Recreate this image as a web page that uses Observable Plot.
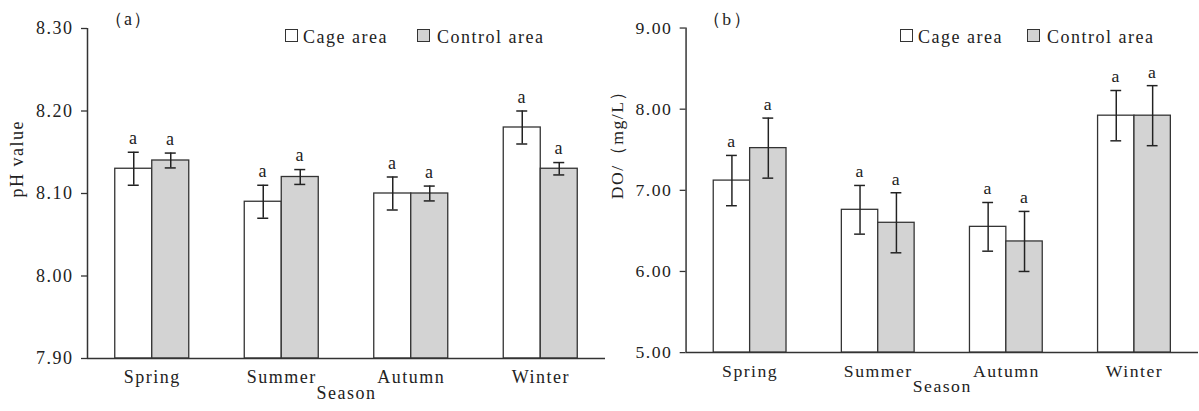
<!DOCTYPE html>
<html><head><meta charset="utf-8">
<script src="https://cdn.jsdelivr.net/npm/d3@7"></script>
<script src="https://cdn.jsdelivr.net/npm/@observablehq/plot@0.6"></script>
<style>
body{margin:0;background:#fff;}
#wrap{position:relative;width:1199px;height:411px;overflow:hidden;background:#fff;}
.panel{position:absolute;top:0;}
.lg{position:absolute;top:28px;font-family:"Liberation Serif",serif;font-size:18px;line-height:18px;letter-spacing:1.5px;color:#222;white-space:nowrap;}
.sw{position:absolute;top:29px;width:11px;height:11px;border:1.5px solid #333;box-sizing:content-box;}
</style></head>
<body><div id="wrap"></div>
<script>
// ---- data ----
const seasons = ["Spring", "Summer", "Autumn", "Winter"];
const areas = ["Cage area", "Control area"];

const phCage = [8.13, 8.09, 8.10, 8.18];
const phCageSd = [0.02, 0.02, 0.02, 0.02];
const phControl = [8.14, 8.12, 8.10, 8.13];
const phControlSd = [0.009, 0.009, 0.009, 0.0075];
const phSigCage = ["a", "a", "a", "a"];
const phSigControl = ["a", "a", "a", "a"];
const phTicks = [7.90, 8.00, 8.10, 8.20, 8.30];

const doCage = [7.12, 6.76, 6.55, 7.92];
const doCageSd = [0.31, 0.30, 0.30, 0.31];
const doControl = [7.52, 6.60, 6.37, 7.92];
const doControlSd = [0.37, 0.37, 0.37, 0.37];
const doSigCage = ["a", "a", "a", "a"];
const doSigControl = ["a", "a", "a", "a"];
const doTicks = [5.00, 6.00, 7.00, 8.00, 9.00];

const FONT = '"Liberation Serif", "Times New Roman", serif';
const INK = "#333";

function makePanel(o) {
  const rows = [];
  seasons.forEach((s, i) => {
    rows.push({season: s, i, side: -1, value: o.cage[i], sd: o.cageSd[i], sig: o.sigCage[i]});
    rows.push({season: s, i, side: 1, value: o.control[i], sd: o.controlSd[i], sig: o.sigControl[i]});
  });
  const cageRows = rows.filter(d => d.side < 0);
  const ctrlRows = rows.filter(d => d.side > 0);
  const marginLeft = 87, marginRight = 1;
  const step = (o.width - marginLeft - marginRight) / seasons.length;
  const bw = 37 / step;
  const cap = 5.5 / step;
  const center = d => d.i + d.side * bw / 2;
  const y0 = o.ticks[0];
  return Plot.plot({
    width: o.width, height: 411,
    marginLeft, marginRight, marginTop: 28, marginBottom: 53,
    style: {fontFamily: FONT, fontSize: "18px", letterSpacing: "1.5px", color: "#222", background: "transparent", overflow: "visible"},
    x: {domain: [-0.5, seasons.length - 0.5]},
    y: {domain: [o.ticks[0], o.ticks[o.ticks.length - 1]]},
    marks: [
      Plot.rect(cageRows, {x1: d => d.i - bw, x2: d => d.i, y1: y0, y2: "value", fill: "#ffffff", stroke: INK, strokeWidth: 1.3}),
      Plot.rect(ctrlRows, {x1: d => d.i, x2: d => d.i + bw, y1: y0, y2: "value", fill: "#d3d3d3", stroke: INK, strokeWidth: 1.3}),
      Plot.ruleX(rows, {x: center, y1: d => d.value - d.sd, y2: d => d.value + d.sd, stroke: "#222", strokeWidth: 1.5}),
      Plot.ruleY(rows, {y: d => d.value + d.sd, x1: d => center(d) - cap, x2: d => center(d) + cap, stroke: "#222", strokeWidth: 1.5}),
      Plot.ruleY(rows, {y: d => d.value - d.sd, x1: d => center(d) - cap, x2: d => center(d) + cap, stroke: "#222", strokeWidth: 1.5}),
      Plot.text(rows, {x: center, y: d => d.value + d.sd, text: "sig", dy: -14, fill: "#222"}),
      Plot.ruleX([-0.5], {stroke: INK, strokeWidth: 1.5}),
      Plot.ruleY([y0], {stroke: INK, strokeWidth: 1.5}),
      Plot.axisY({ticks: o.ticks, tickFormat: d3.format(".2f"), tickSize: 6, tickPadding: 8, label: null, stroke: INK, strokeWidth: 1.3, fill: "#222"}),
      Plot.axisX({ticks: d3.range(seasons.length), tickFormat: i => seasons[i], tickSize: 0, tickPadding: 12, label: null, fill: "#222"}),
      Plot.text([o.yLabel], {frameAnchor: "left", rotate: -90, dx: -70, dy: o.yLabelDy, fill: "#222"}),
      Plot.text(["Season"], {frameAnchor: "bottom", dy: 40, fill: "#222"}),
      Plot.text([o.tag], {frameAnchor: "top-left", textAnchor: "start", lineAnchor: "middle", dx: 17, dy: -9, fill: "#222"})
    ]
  });
}

const wrap = document.getElementById("wrap");
function place(svg, left, z) {
  const d = document.createElement("div");
  d.className = "panel";
  d.style.left = left + "px";
  d.style.zIndex = z;
  d.appendChild(svg);
  wrap.appendChild(d);
}
function legend(sqLefts, txLefts) {
  const fills = ["#ffffff", "#d3d3d3"];
  areas.forEach((a, k) => {
    const s = document.createElement("div");
    s.className = "sw"; s.style.left = sqLefts[k] + "px"; s.style.background = fills[k];
    wrap.appendChild(s);
    const t = document.createElement("div");
    t.className = "lg"; t.style.left = txLefts[k] + "px"; t.textContent = a;
    wrap.appendChild(t);
  });
}

place(makePanel({cage: phCage, cageSd: phCageSd, control: phControl, controlSd: phControlSd,
  sigCage: phSigCage, sigControl: phSigControl, ticks: phTicks, width: 606,
  yLabel: "pH value", yLabelDy: 4, tag: "（a）"}), 0, 2);
place(makePanel({cage: doCage, cageSd: doCageSd, control: doControl, controlSd: doControlSd,
  sigCage: doSigCage, sigControl: doSigControl, ticks: doTicks, width: 609,
  yLabel: "DO/（mg/L）", yLabelDy: 9, tag: "（b）"}), 600, 1);
legend([285, 417], [303, 437]);
legend([900, 1027], [918, 1047]);
</script>
</body></html>
